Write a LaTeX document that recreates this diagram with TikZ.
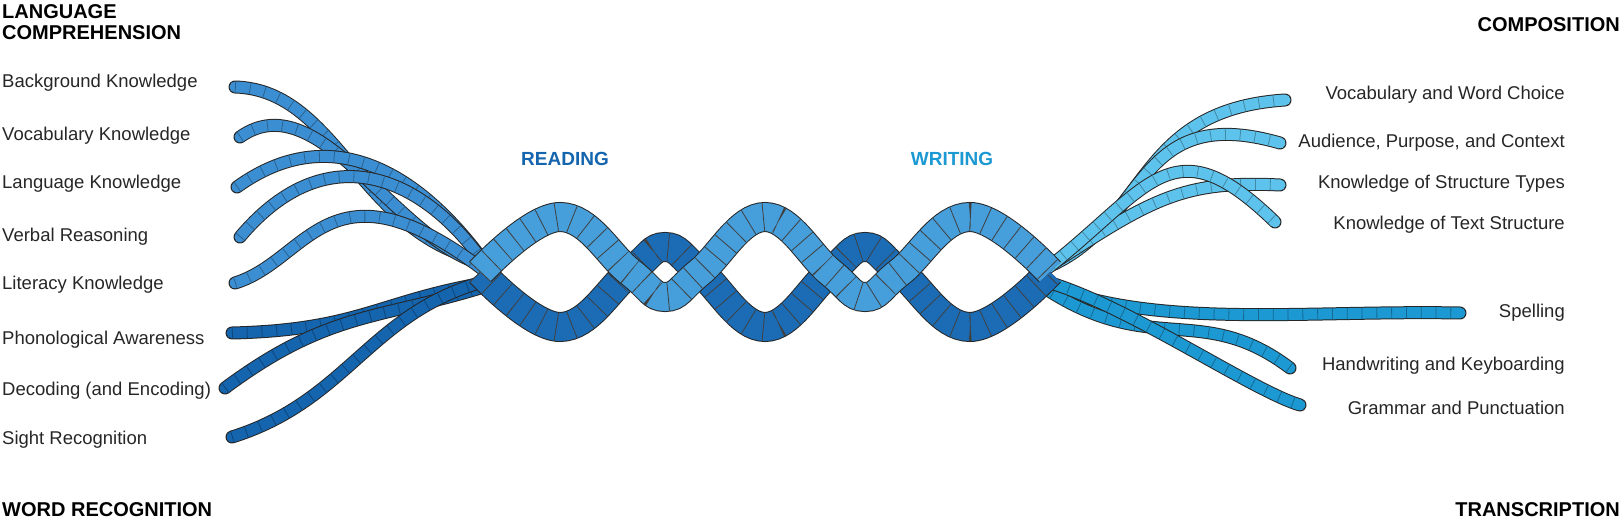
\documentclass[tikz,border=0pt]{standalone}
\usepackage{fontspec}
\setmainfont{Liberation Sans}
\begin{document}
\begin{tikzpicture}[x=1pt,y=-1pt,
  lbl/.style={font=\fontsize{18.5}{21}\selectfont, text=black!85, inner sep=0},
  ttl/.style={font=\fontsize{20}{21}\selectfont\bfseries, inner sep=0, align=left},
  strand/.style={draw=black!85, line width=13, line cap=round},
  rope/.style={draw=black!85, line width=30}]
\definecolor{lc}{HTML}{3B8ED2}
\definecolor{wr}{HTML}{1464AE}
\definecolor{cp}{HTML}{5EC3EC}
\definecolor{tr}{HTML}{1C98D2}
\useasboundingbox (0,0) rectangle (1622,521);
\newcommand{\strd}[2]{\draw[strand] #2; \draw[line width=11, #1, line cap=round] #2; \draw[line width=11, #1!70!black, dash pattern=on 0.8 off 14] #2;}
% left upper
\strd{lc}{(235,87) .. controls (340,90) and (360,240) .. (490,262)}
\strd{lc}{(240,137) .. controls (320,80) and (400,250) .. (490,266)}
\strd{lc}{(237,187) .. controls (330,120) and (420,170) .. (490,270)}
\strd{lc}{(240,237) .. controls (330,130) and (430,180) .. (490,272)}
\strd{lc}{(235,283) .. controls (310,260) and (330,150) .. (490,275)}
% left lower
\strd{wr}{(232,333) .. controls (360,330) and (380,300) .. (490,282)}
\strd{wr}{(225,388) .. controls (330,310) and (380,320) .. (490,285)}
\strd{wr}{(232,437) .. controls (350,400) and (370,310) .. (490,280)}
% right upper
\strd{cp}{(1040,268) .. controls (1150,230) and (1130,110) .. (1285,100)}
\strd{cp}{(1040,270) .. controls (1150,230) and (1130,100) .. (1280,143)}
\strd{cp}{(1040,272) .. controls (1150,200) and (1180,180) .. (1280,185)}
\strd{cp}{(1040,274) .. controls (1150,190) and (1170,120) .. (1275,222)}
% right lower
\strd{tr}{(1040,282) .. controls (1150,330) and (1300,310) .. (1460,313)}
\strd{tr}{(1040,285) .. controls (1150,360) and (1200,300) .. (1290,368)}
\strd{tr}{(1040,280) .. controls (1120,300) and (1250,390) .. (1300,405)}
% central braid
\newcommand{\rp}[2]{\draw[rope] plot[smooth,tension=0.7] coordinates {#2};
 \draw[line width=28, #1] plot[smooth,tension=0.7] coordinates {#2};
 \draw[line width=28, black!75, dash pattern=on 0.8 off 15] plot[smooth,tension=0.7] coordinates {#2};}
\rp{wr!80!lc}{(480,272) (560,327) (630,272) (665,247) (700,272) (765,327) (830,272) (865,247) (900,272) (970,327) (1050,272)}
\rp{lc!70!cp}{(480,272) (560,217) (630,272) (665,297) (700,272) (765,217) (830,272) (865,297) (900,272) (970,217) (1050,272)}
% titles
\node[ttl, anchor=north west] (t1) at (2,4) {LANGUAGE\\COMPREHENSION};
\node[ttl, anchor=north east] (t2) at (1620,17) {COMPOSITION};
\node[ttl, anchor=south west] (t3) at (2,517) {WORD RECOGNITION};
\node[ttl, anchor=south east] (t4) at (1620,517) {TRANSCRIPTION};
\node[font=\fontsize{19}{21}\selectfont\bfseries, text=wr] (rd) at (565,159) {READING};
\node[font=\fontsize{19}{21}\selectfont\bfseries, text=tr] (wt) at (952,159) {WRITING};
% left labels
\foreach \t/\y [count=\i] in {Background Knowledge/83,Vocabulary Knowledge/136,Language Knowledge/184,Verbal Reasoning/237,Literacy Knowledge/285,Phonological Awareness/340,Decoding (and Encoding)/391,Sight Recognition/440}
  \node[lbl, anchor=west] (l\i) at (2,\y) {\t};
\foreach \t/\y [count=\i] in {Vocabulary and Word Choice/95,{Audience, Purpose, and Context}/143,Knowledge of Structure Types/184,Knowledge of Text Structure/225,Spelling/313,Handwriting and Keyboarding/366,Grammar and Punctuation/408}
  \node[lbl, anchor=east] (r\i) at (1565,\y) {\t};
\end{tikzpicture}
\end{document}
